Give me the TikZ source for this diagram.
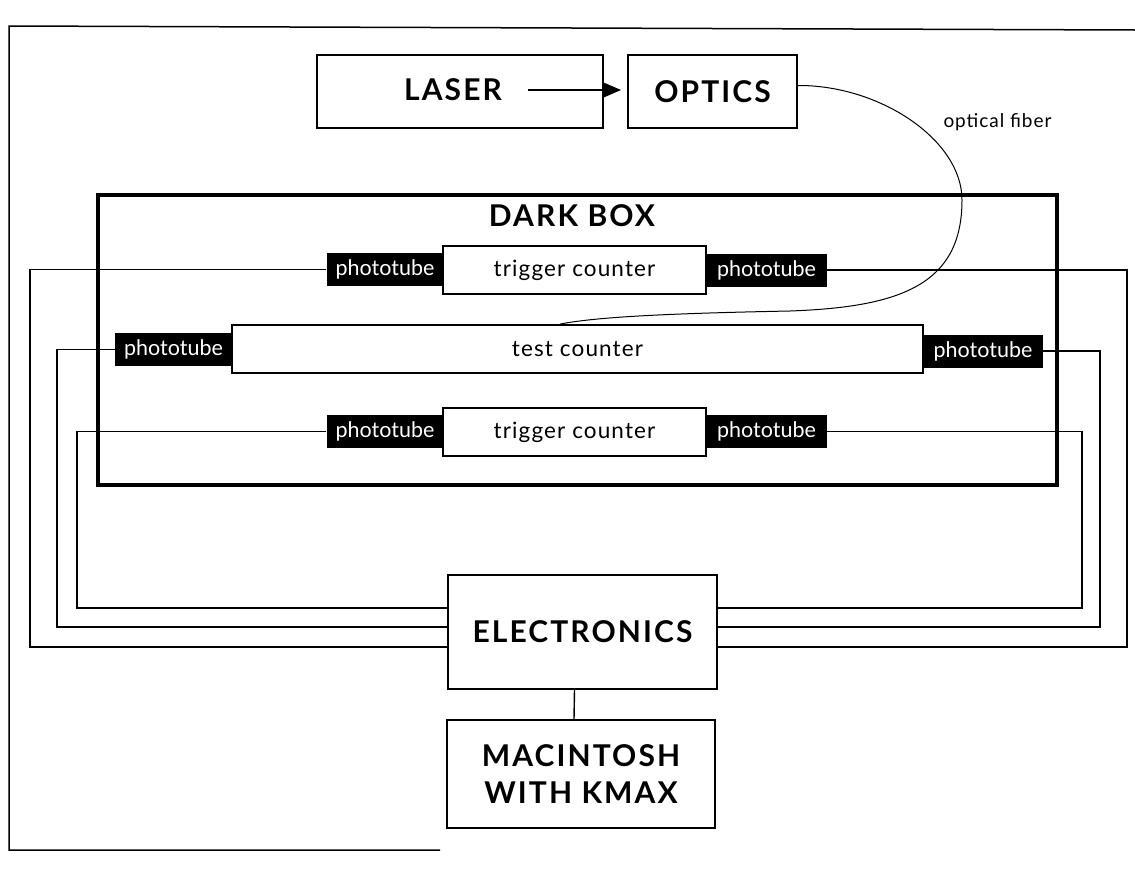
\documentclass[tikz,border=0pt]{standalone}
\usepackage{fontspec}
\setmainfont{Lato}
\newfontfamily\capfont[LetterSpace=7]{Lato}
\newfontfamily\lowfont[LetterSpace=5]{Lato}
\usetikzlibrary{arrows.meta,calc}
\begin{document}
\begin{tikzpicture}[x=1pt,y=-1pt,
 box/.style={draw,line width=1.8pt,inner sep=0pt,fill=white},
 tube/.style={fill=black,text=white,inner sep=0pt,minimum width=117pt,minimum height=33pt,font=\fontsize{21.5}{22}\selectfont},
 wire/.style={line width=1.4pt},
 caps/.style={font=\capfont\bfseries\fontsize{30}{37}\selectfont},
 lbl/.style={font=\lowfont\fontsize{22.5}{24}\selectfont},
 fiberline/.style={line width=1pt},
]
\useasboundingbox (0,0) rectangle (1135,873);
% outer frame
\draw[line width=1.5pt] (1135,30) -- (9,26) -- (9,850) -- (440,850);
% top row
\node[box,minimum width=286pt,minimum height=73pt] (laser) at (460,91.5) {};
\node[caps] (lasertxt) at (453,90) {LASER};
\node[box,caps,minimum width=169pt,minimum height=73pt] (optics) at (712.5,91.5) {OPTICS};
\coordinate (arrowstart) at (528,90);
\draw[line width=1.6pt,-{Triangle[length=18pt,width=15pt]}] (arrowstart) -- ([xshift=-6pt,yshift=1.5pt]optics.west);
\node[font=\lowfont\fontsize{19}{20}\selectfont,anchor=west] (fiberlbl) at (940,122) {optical fiber};
% dark box
\node[draw,line width=3.5pt,minimum width=959pt,minimum height=290pt,inner sep=0pt] (dark) at (577.5,340) {};
\node[caps] (darktitle) at (572,216) {DARK BOX};
% counters
\node[box,lbl,minimum width=263pt,minimum height=48pt] (trig1) at (574.5,270) {trigger counter};
\node[box,lbl,minimum width=691pt,minimum height=48pt] (test) at (577.5,349) {test counter};
\node[box,lbl,minimum width=263pt,minimum height=48pt] (trig2) at (574.5,432) {trigger counter};
% phototubes
\node[tube] (t1L) at (385,269.5) {phototube};
\node[tube,minimum width=121pt] (t1R) at (766.5,270) {phototube};
\node[tube] (tL) at (173.5,349.5) {phototube};
\node[tube,minimum width=120pt] (tR) at (983,351) {phototube};
\node[tube] (t2L) at (385,431.5) {phototube};
\node[tube,minimum width=121pt] (t2R) at (766.5,431.5) {phototube};
% fiber
\draw[fiberline] ([yshift=6pt]optics.east) .. controls (880,85) and (962,140) .. (962,200)
  .. controls (962,285) and (900,307) .. (790,311)
  .. controls (690,313) and (600,316) .. ([xshift=-17.5pt]test.north);
% electronics & mac
\node[box,caps,minimum width=269pt,minimum height=114pt] (elec) at (582.5,632) {ELECTRONICS};
\node[box,caps,align=center,minimum width=268pt,minimum height=108pt] (mac) at (581,774) {MACINTOSH\\WITH KMAX};
\draw[wire] ([xshift=-8pt]elec.south) -- ([xshift=-7pt]mac.north);
% wires left
\draw[wire] (t1L.west) -| (30,647) -- ($(elec.west)+(0,15)$);
\draw[wire] (tL.west) -| (57,627) -- ($(elec.west)+(0,-5)$);
\draw[wire] (t2L.west) -| (77,608) -- ($(elec.west)+(0,-24)$);
% wires right
\draw[wire] (t1R.east) -| (1127,647) -- ($(elec.east)+(0,15)$);
\draw[wire] (tR.east) -| (1100,627) -- ($(elec.east)+(0,-5)$);
\draw[wire] (t2R.east) -| (1082,608) -- ($(elec.east)+(0,-24)$);
\end{tikzpicture}
\end{document}
